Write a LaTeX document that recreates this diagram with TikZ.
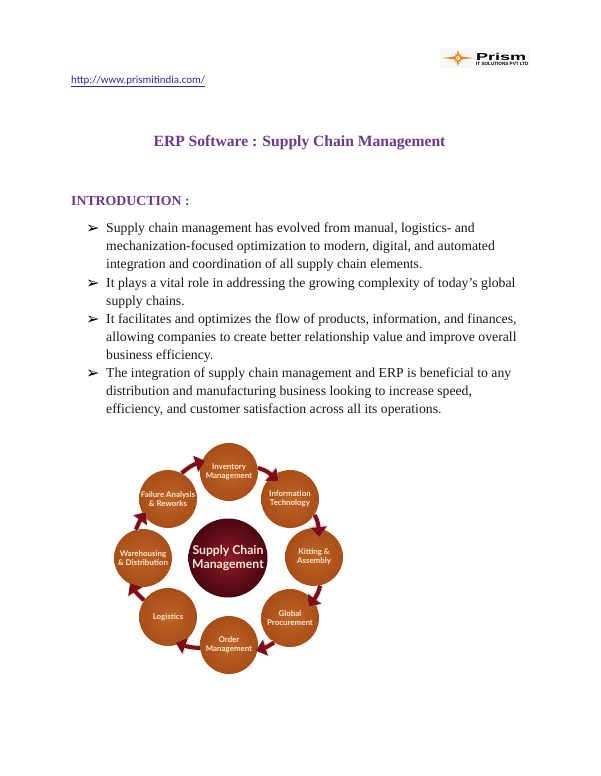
\documentclass[tikz,border=0pt]{standalone}
\usepackage{fontspec}
\usepackage{graphicx}
\setmainfont{Liberation Serif}
\newfontfamily\circfont{Lato}
\newfontfamily\linkfont{Carlito}
\newfontfamily\dingfont{DejaVu Sans}
\newfontfamily\logofont{Liberation Sans}
\usetikzlibrary{arrows.meta,shapes.geometric}
\definecolor{titlepurple}{HTML}{6B3A8F}
\definecolor{bodyink}{HTML}{1A1A1A}
\definecolor{linkblue}{HTML}{2A2AB0}
\definecolor{orbedge}{HTML}{A84E18}
\definecolor{orbmid}{HTML}{BF6426}
\definecolor{hubedge}{HTML}{4A0612}
\definecolor{hubmid}{HTML}{8E1C28}
\definecolor{arrowred}{HTML}{7C0E1A}
\definecolor{arrowpale}{HTML}{F3D9DC}
\definecolor{orbtext}{HTML}{FBE9D2}
\definecolor{logobg}{HTML}{F8F8F8}
\definecolor{logoorange}{HTML}{E98A22}
\tikzset{
  x=1pt,y=-1pt,
  bodyline/.style={anchor=base west,inner sep=0pt,font=\fontsize{13.72}{16}\selectfont,text=bodyink},
  bullet/.style={anchor=base west,inner sep=0pt,font=\fontsize{16}{16}\dingfont,text=black},
  orb/.style={circle,minimum size=58pt,inner sep=0pt,align=center,text=orbtext,
    inner color=orbmid,outer color=orbedge,font=\circfont\bfseries\fontsize{7.9}{9.4}\selectfont},
  hub/.style={circle,minimum size=79pt,inner sep=0pt,align=center,text=orbtext,
    inner color=hubmid,outer color=hubedge,font=\circfont\bfseries\fontsize{12.2}{13.8}\selectfont},
  flow/.style={line width=4pt,draw=arrowred,shorten >=-#1pt,-{Triangle[length=10pt,width=16pt,fill=arrowred]},
    preaction={draw=arrowpale,line width=5.6pt,shorten >=-#1pt,-{Triangle[length=11.5pt,width=18.5pt,fill=arrowpale]}}},
}
\begin{document}
\begin{tikzpicture}
\useasboundingbox[fill=white] (0,0) rectangle (600,776);
% link
\node[anchor=base west,inner sep=0pt,text=linkblue,font=\linkfont\fontsize{10.9}{14}\selectfont] (lnk) at (71,83) {\underline{http://www.prismitindia.com/}};
% logo
\fill[logobg] (440,48) rectangle (530,68);
\fill[logoorange] (442,58) -- (456,56.5) -- (458,50) -- (460,56.5) -- (474,58) -- (460,59.5) -- (458,66) -- (456,59.5) -- cycle;
\node[star,star points=10,star point ratio=2,minimum size=11pt,inner sep=0pt,fill=logoorange] (burst) at (458,58) {};
\node[circle,minimum size=4pt,inner sep=0pt,fill=white,text=logoorange,font=\fontsize{3.5}{4}\selectfont\bfseries] (burstc) at (458,58) {P};
\node[anchor=base west,inner sep=0pt,font=\logofont\bfseries\fontsize{10}{10}\selectfont] (prism) at (476,60) {\scalebox{1.8}[1]{Prism}};
\node[anchor=base west,inner sep=0pt,font=\logofont\bfseries\fontsize{4.6}{5}\selectfont] (solut) at (476,65.5) {IT SOLUTIONS PVT LTD};
% headings
\node[anchor=base,inner sep=0pt,text=titlepurple,font=\bfseries\fontsize{15.6}{18}\selectfont] (title) at (299.5,146) {ERP Software : Supply Chain Management};
\node[anchor=base west,inner sep=0pt,text=titlepurple,font=\bfseries\fontsize{13.8}{18}\selectfont] (intro) at (71,205) {INTRODUCTION :};
% body
\foreach \tx/\py in {
 {Supply chain management has evolved from manual, logistics- and}/232,
 {mechanization-focused optimization to modern, digital, and automated}/250,
 {integration and coordination of all supply chain elements.}/268,
 {It plays a vital role in addressing the growing complexity of today’s global}/287,
 {supply chains.}/305,
 {It facilitates and optimizes the flow of products, information, and finances,}/323,
 {allowing companies to create better relationship value and improve overall}/341,
 {business efficiency.}/359,
 {The integration of supply chain management and ERP is beneficial to any}/377,
 {distribution and manufacturing business looking to increase speed,}/395,
 {efficiency, and customer satisfaction across all its operations.}/413}
 {\node[bodyline] at (106,\py) {\tx};}
\foreach \py in {233,288,324,378}
 {\node[bullet] at (86,\py) {➢};}
% diagram
\node[orb] (inv) at (229,472) {Inventory\\Management};
\node[orb] (info) at (290,499) {Information\\Technology};
\node[orb] (kit) at (314,557) {Kitting \&\\Assembly};
\node[orb] (glob) at (290,618) {Global\\Procurement};
\node[orb] (ord) at (229,645) {Order\\Management};
\node[orb] (log) at (168,617) {Logistics};
\node[orb] (ware) at (143,558) {Warehousing\\\& Distribution};
\node[orb] (fail) at (168,499) {Failure Analysis\\\& Reworks};
\node[hub] (scm) at (228,558) {Supply Chain\\Management};
\draw[flow=8] (inv.8) to[bend left=12] (info.127);
\draw[flow=9] (info.-33) to[bend left=12] (kit.81);
\draw[flow=8] (kit.-78) to[bend left=12] (glob.37);
\draw[flow=2] (glob.-123) to[bend left=8] (ord.-10);
\draw[flow=4] (ord.186) to[bend left=8] (log.-67);
\draw[flow=2] (log.145) to[bend left=8] (ware.-114);
\draw[flow=4] (ware.104) to[bend left=8] (fail.214);
\draw[flow=4] (fail.62) to[bend left=12] (inv.160);
\end{tikzpicture}
\end{document}
